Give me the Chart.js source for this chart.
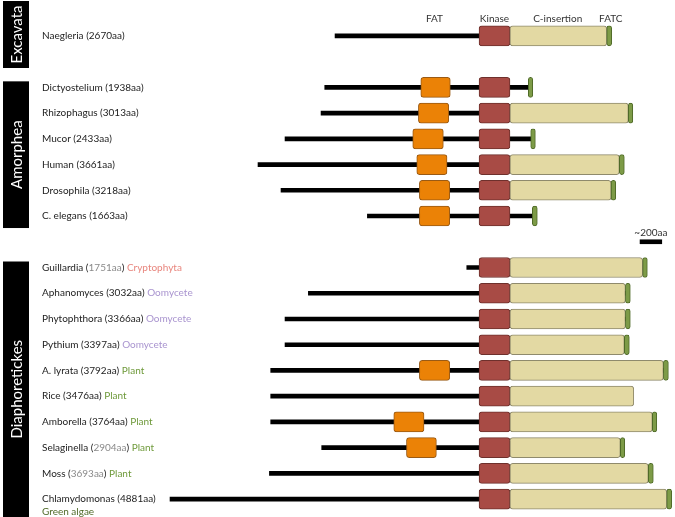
<!DOCTYPE html>
<html>
<head>
<meta charset="utf-8">
<script src="https://cdn.jsdelivr.net/npm/chart.js@4"></script>
<style>
  html, body { margin: 0; padding: 0; background: #fff; }
  #wrap { width: 675px; height: 517px; position: relative; }
</style>
</head>
<body>
<div id="wrap"><canvas id="dom"></canvas></div>
<script>
// ── dati (posizioni in aa, kinase allineata a 0) ──
const species   = ['Naegleria','Dictyostelium','Rhizophagus','Mucor','Human','Drosophila','C. elegans',
                   'Guillardia','Aphanomyces','Phytophthora','Pythium','A. lyrata','Rice','Amborella','Selaginella','Moss','Chlamydomonas'];
const lengthAA  = ['2670','1938','3013','2433','3661','3218','1663',
                   '1751','3032','3366','3397','3792','3476','3764','2904','3693','4881'];
const lenGray   = [0,0,0,0,0,0,0, 1,0,0,0,0,0,0,1,1,0];
const clade     = ['','','','','','','',
                   'Cryptophyta','Oomycete','Oomycete','Oomycete','Plant','Plant','Plant','Plant','Plant','Green algae'];
const rowSlot   = [0, 2,3,4,5,6,7, 9,10,11,12,13,14,15,16,17,18];
const lineStart = [-1327,-1422,-1456,-1788,-2037,-1825,-1029, -113,-1573,-1788,-1788,-1920,-1920,-1920,-1450,-1932,-2848];
const fatStart  = [null,-537,-559,-611,-574,-550,-550, null,null,null,null,-550,null,-786,-669,null,null];
const fatEnd    = [null,-265,-279,-329,-295,-270,-270, null,null,null,null,-270,null,-507,-393,null,null];
const kinase    = [0, 285];
const cInsEnd   = [1177,null,1376,null,1293,1217,null, 1508,1349,1349,1339,1699,1426,1597,1302,1560,1730];
const fatcStart = [1177,454,1376,476,1293,1217,491, 1508,1349,1349,1339,1699,null,1597,1302,1560,1730];
const fatcEnd   = [1223,495,1417,519,1339,1260,537, 1551,1394,1394,1385,1745,null,1638,1343,1606,1776];
const scaleBar  = [1484, 1684]; // ~200aa
const scaleSlot = 8;
const nSlots    = 19;
const groups    = [
  { name: 'Excavata',       from: 0, to: 0 },
  { name: 'Amorphea',       from: 2, to: 7 },
  { name: 'Diaphoretickes', from: 9, to: 18 }
];
const headers = [['FAT', -411], ['Kinase', 142], ['C-insertion', 725], ['FATC', 1214]];

const cladeColors = { 'Cryptophyta': '#e8867e', 'Oomycete': '#a994cf', 'Plant': '#6f9a3b', 'Green algae': '#4f6a28' };

function perSlot(fn) {
  const out = Array(nSlots).fill(null);
  species.forEach((s, i) => { out[rowSlot[i]] = fn(i); });
  return out;
}

const lineData   = perSlot(i => [lineStart[i], Math.max(kinase[1], fatcStart[i] || 0)]);
lineData[scaleSlot] = scaleBar;
const fatData    = perSlot(i => fatStart[i] != null ? [fatStart[i], fatEnd[i]] : null);
const kinData    = perSlot(i => kinase);
const cinsData   = perSlot(i => cInsEnd[i] != null ? [kinase[1], cInsEnd[i]] : null);
const fatcData   = perSlot(i => fatcStart[i] != null ? [fatcStart[i], fatcEnd[i]] : null);

const box = (label, data, bg, border, order) => ({
  label, data, backgroundColor: bg, borderColor: border, borderWidth: 1,
  borderRadius: 3, borderSkipped: false, barThickness: 20, grouped: false, order
});

const FONT = 'Lato, "Open Sans", sans-serif';

const testiPlugin = {
  id: 'testi',
  afterDraw(chart) {
    const ctx = chart.ctx;
    const y = chart.scales.y, x = chart.scales.x;
    ctx.save();
    // etichette specie
    ctx.textBaseline = 'middle';
    ctx.font = '10px ' + FONT;
    species.forEach((s, i) => {
      const yy = y.getPixelForValue(rowSlot[i]);
      const segs = [[s + ' (', '#222'], [lengthAA[i] + 'aa', lenGray[i] ? '#8a8a8a' : '#222'], [')', '#222']];
      if (clade[i] && clade[i] !== 'Green algae') segs.push([' ' + clade[i], cladeColors[clade[i]]]);
      let xx = 42;
      segs.forEach(([t, c]) => { ctx.fillStyle = c; ctx.fillText(t, xx, yy); xx += ctx.measureText(t).width; });
      if (clade[i] === 'Green algae') { ctx.fillStyle = cladeColors[clade[i]]; ctx.fillText(clade[i], 42, yy + 13); }
    });
    // intestazioni domini
    ctx.fillStyle = '#333';
    ctx.textAlign = 'center';
    headers.forEach(([t, v]) => ctx.fillText(t, x.getPixelForValue(v), 19));
    ctx.fillText('~200aa', x.getPixelForValue((scaleBar[0] + scaleBar[1]) / 2), y.getPixelForValue(scaleSlot) - 9);
    // box gruppi
    groups.forEach(g => {
      let top = g.from === 0 ? 1 : y.getPixelForValue(g.from) - 6;
      let bot = g.to === nSlots - 1 ? 517 : y.getPixelForValue(g.to) + 12;
      if (g.from === 0) bot = 68;
      ctx.fillStyle = '#000';
      ctx.fillRect(3, top, 26, bot - top);
      ctx.save();
      ctx.translate(16, (top + bot) / 2);
      ctx.rotate(-Math.PI / 2);
      ctx.fillStyle = '#fff';
      ctx.font = '15px ' + FONT;
      ctx.textAlign = 'center';
      ctx.fillText(g.name, 0, 1);
      ctx.restore();
    });
    ctx.restore();
  }
};

new Chart(document.getElementById('dom').getContext('2d'), {
  type: 'bar',
  data: {
    labels: Array.from({ length: nSlots }, (_, i) => 'r' + i),
    datasets: [
      { label: 'line', data: lineData, backgroundColor: '#000', barThickness: 4, grouped: false, borderWidth: 0, order: 9 },
      box('FAT', fatData, '#eb8206', '#9a5a14', 4),
      box('Kinase', kinData, '#a84b45', '#6e302c', 3),
      box('C-insertion', cinsData, '#e3d9a3', '#8f8a6c', 2),
      box('FATC', fatcData, '#7d9b47', '#4f6a28', 1)
    ]
  },
  options: {
    indexAxis: 'y',
    responsive: true,
    maintainAspectRatio: false,
    animation: false,
    layout: { padding: { top: 23, bottom: 5, left: 0, right: 0 } },
    plugins: { legend: { display: false }, tooltip: { enabled: false } },
    scales: {
      x: { display: false, min: -4415, max: 1806 },
      y: { display: false }
    }
  },
  plugins: [testiPlugin]
});
</script>
</body>
</html>
